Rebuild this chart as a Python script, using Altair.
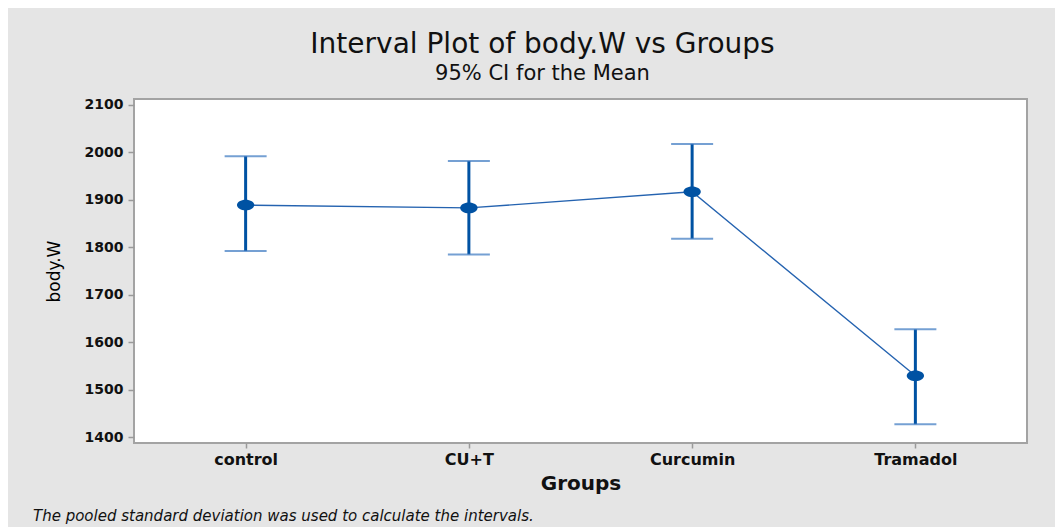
import altair as alt
import pandas as pd

groups = ["control", "CU+T", "Curcumin", "Tramadol"]
means = [1889, 1883, 1917, 1529]
lower = [1792, 1785, 1818, 1427]
upper = [1992, 1982, 2018, 1627]
y_ticks = [1400, 1500, 1600, 1700, 1800, 1900, 2000, 2100]
title_text = "Interval Plot of body.W vs Groups"
subtitle_text = "95% CI for the Mean"
footer_text = "The pooled standard deviation was used to calculate the intervals."

df = pd.DataFrame({"Groups": groups, "mean": means, "lo": lower, "hi": upper})

FONT = "DejaVu Sans"
BLUE = "#0052a3"

x_enc = alt.X(
    "Groups:N",
    sort=groups,
    scale=alt.Scale(type="point", padding=0.5),
    axis=alt.Axis(
        title="Groups",
        labelAngle=0,
        labelFont=FONT,
        labelFontSize=16,
        labelFontWeight="bold",
        labelColor="#111111",
        labelPadding=3,
        tickSize=5,
        tickColor="#9a9a9a",
        tickWidth=1.5,
        domain=False,
        grid=False,
        titleFont=FONT,
        titleFontSize=20,
        titleFontWeight="bold",
        titleColor="#111111",
        titleBaseline="middle",
        titleY=40,
    ),
)

y_scale = alt.Scale(domain=[1387.35, 2112.65], nice=False, zero=False)
y_axis = alt.Axis(
    title="body.W",
    values=y_ticks,
    format="d",
    labelFont=FONT,
    labelFontSize=14,
    labelFontWeight="bold",
    labelColor="#111111",
    labelPadding=5,
    tickSize=6,
    tickColor="#9a9a9a",
    tickWidth=1.5,
    domain=False,
    grid=False,
    titleFont=FONT,
    titleFontSize=17,
    titleFontWeight="normal",
    titleColor="#000000",
    titleAngle=-90,
    titleAlign="center",
    titleBaseline="middle",
    titleX=-80,
    titleY=172,
)

base = alt.Chart(df)

line = base.mark_line(color="#2563b0", strokeWidth=1.4).encode(
    x=x_enc, y=alt.Y("mean:Q", scale=y_scale, axis=y_axis)
)

rules = base.mark_rule(color=BLUE, strokeWidth=3).encode(
    x=x_enc, y=alt.Y("lo:Q", scale=y_scale), y2="hi:Q"
)

caps_hi = base.mark_tick(color="#3a78c0", size=42, thickness=2).encode(
    x=x_enc, y=alt.Y("hi:Q", scale=y_scale)
)
caps_lo = base.mark_tick(color="#3a78c0", size=42, thickness=2).encode(
    x=x_enc, y=alt.Y("lo:Q", scale=y_scale)
)

ellipse = "M -1 0 A 1 0.62 0 1 0 1 0 A 1 0.62 0 1 0 -1 0 Z"
points = base.mark_point(
    shape=ellipse, filled=True, color=BLUE, opacity=1, size=300
).encode(x=x_enc, y=alt.Y("mean:Q", scale=y_scale))

footer = alt.Chart(pd.DataFrame({"t": [footer_text]})).mark_text(
    font=FONT,
    fontSize=15,
    fontStyle="italic",
    color="#111111",
    align="left",
    baseline="middle",
).encode(x=alt.value(-101), y=alt.value(417), text="t:N")

chart = (
    alt.layer(line, rules, caps_hi, caps_lo, points, footer)
    .properties(
        width=893,
        height=344,
        background="#e5e5e5",
        padding={"left": 126, "top": 91, "right": 28, "bottom": 84},
        autosize=alt.AutoSizeParams(type="none"),
        title=alt.TitleParams(
            text=title_text,
            subtitle=subtitle_text,
            font=FONT,
            fontSize=28,
            fontWeight="normal",
            color="#111111",
            subtitleFont=FONT,
            subtitleFontSize=21,
            subtitleColor="#111111",
            subtitlePadding=4,
            anchor="middle",
            dx=-38,
            offset=14,
        ),
    )
    .configure_view(fill="white", stroke="#a3a3a3", strokeWidth=2)
)

chart.save("out.html", embed_options={"renderer": "svg", "actions": False})
